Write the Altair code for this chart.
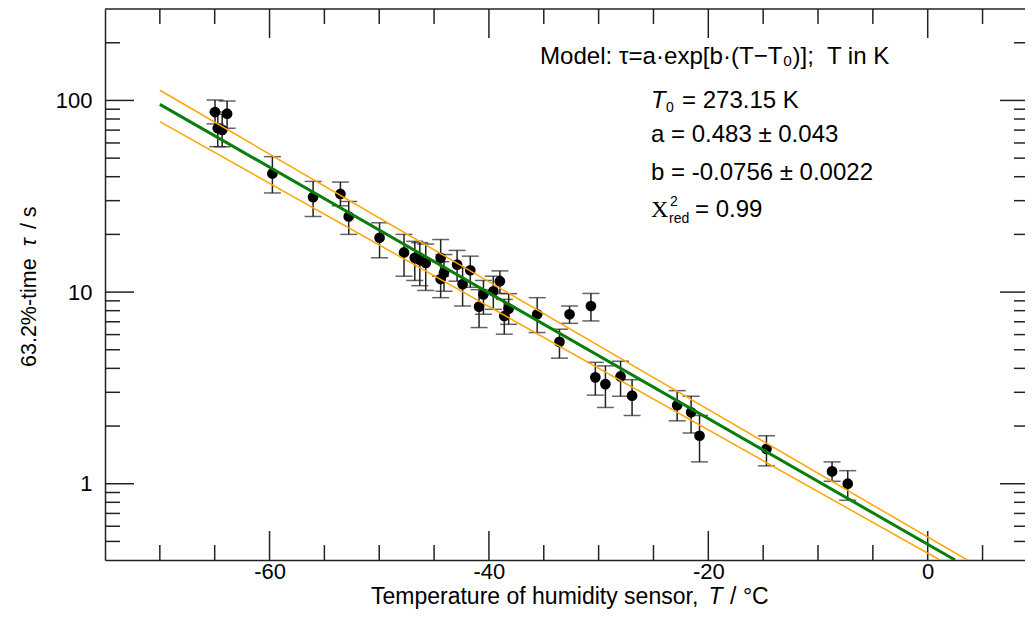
import altair as alt
import pandas as pd

# ---------------- data ----------------
T_degC = [-64.97, -63.87, -64.72, -64.32, -59.74, -56.03, -53.54, -52.78, -49.97, -47.74,
          -46.76, -46.3, -45.76, -44.4, -44.1, -44.4, -42.9, -42.4, -41.7, -40.9,
          -40.5, -39.6, -39.0, -38.6, -38.2, -35.6, -32.65, -30.7, -33.57, -30.3,
          -29.38, -28.0, -26.95, -22.84, -21.57, -20.8, -14.7, -8.72, -7.29]
tau = [87.0, 85.3, 71.6, 70.2, 41.6, 31.3, 32.5, 24.8, 19.2, 16.1,
       15.1, 14.7, 14.2, 15.1, 12.6, 11.7, 13.9, 11.0, 13.0, 8.40,
       9.73, 10.1, 11.4, 7.50, 8.20, 7.66, 7.66, 8.46, 5.50, 3.59,
       3.31, 3.63, 2.88, 2.57, 2.36, 1.78, 1.52, 1.16, 1.00]
tau_hi = [100.5, 99.3, 87.0, 84.9, 50.9, 37.8, 37.5, 29.7, 23.0, 20.0,
          18.4, 18.1, 17.8, 18.8, 15.7, 14.4, 16.5, 13.4, 15.4, 10.3,
          11.5, 12.1, 12.9, 9.16, 9.81, 9.35, 8.46, 9.84, 6.40, 4.30,
          4.12, 4.35, 3.49, 3.06, 2.86, 2.27, 1.78, 1.30, 1.17]
tau_lo = [75.4, 71.6, 57.4, 57.3, 32.9, 24.8, 28.2, 20.0, 15.1, 12.1,
          11.5, 10.8, 10.2, 12.1, 10.1, 9.35, 11.4, 8.46, 10.6, 6.53,
          7.66, 8.13, 9.84, 6.03, 6.79, 6.15, 6.87, 7.07, 4.52, 2.90,
          2.50, 2.86, 2.27, 2.13, 1.84, 1.30, 1.24, 1.03, 0.82]

# fitted model line and its confidence band (end points, straight in log space)
fit_T = [-70, 2.5]
fit_tau = [95.4, 0.4]
upper_T = [-70, 3.6]
upper_tau = [113.0, 0.4]
lower_T = [-70, 1.1]
lower_tau = [77.5, 0.4]

x_major = [-60, -40, -20, 0]
x_minor = [-70, -65, -55, -50, -45, -35, -30, -25, -15, -10, -5, 5]
y_major = [1, 10, 100]
y_minor = [0.5, 0.6, 0.7, 0.8, 0.9, 2, 3, 4, 5, 6, 7, 8, 9,
           20, 30, 40, 50, 60, 70, 80, 90, 200]

# ---------------- layout / style ----------------
W, H = 920, 551
FONT = "Liberation Sans"
INK = "#222222"
MAJ, MIN = 29, 15

xscale = alt.Scale(domain=[-75, 8.87], nice=False, zero=False)
yscale = alt.Scale(type="log", domain=[0.4, 300], nice=False)

pts = pd.DataFrame({"T": T_degC, "tau": tau, "hi": tau_hi, "lo": tau_lo})

x_axis = alt.Axis(values=x_major, labelExpr="'' + datum.value", ticks=False, tickSize=0,
                  grid=False, domain=True, domainColor=INK, domainWidth=1.5,
                  labelFont=FONT, labelFontSize=22, labelColor="black",
                  labelPadding=18, labelBaseline="alphabetic", title=None)
y_axis = alt.Axis(values=y_major, labelExpr="'' + datum.value", ticks=False, tickSize=0,
                  grid=False, domain=True, domainColor=INK, domainWidth=1.5,
                  labelFont=FONT, labelFontSize=22, labelColor="black",
                  labelPadding=13, labelBaseline="middle", title=None)


def X(field):
    return alt.X(field, scale=xscale, axis=x_axis)


def Y(field):
    return alt.Y(field, scale=yscale, axis=y_axis)


bars = alt.Chart(pts).mark_rule(color=INK, strokeWidth=1.5).encode(
    x=X("T:Q"), y=Y("lo:Q"), y2="hi:Q")
cap_hi = alt.Chart(pts).mark_tick(orient="horizontal", size=17, thickness=1.5, color=INK).encode(
    x=X("T:Q"), y=Y("hi:Q"))
cap_lo = alt.Chart(pts).mark_tick(orient="horizontal", size=17, thickness=1.5, color=INK).encode(
    x=X("T:Q"), y=Y("lo:Q"))
points = alt.Chart(pts).mark_circle(size=115, color="black", opacity=1).encode(
    x=X("T:Q"), y=Y("tau:Q"))


def line(Ts, taus, color, width):
    d = pd.DataFrame({"T": Ts, "tau": taus})
    return alt.Chart(d).mark_line(color=color, strokeWidth=width, clip=True).encode(
        x=X("T:Q"), y=Y("tau:Q"))


fit_up = line(upper_T, upper_tau, "#FFA500", 1.5)
fit_low = line(lower_T, lower_tau, "#FFA500", 1.5)
fit = line(fit_T, fit_tau, "#0A7D0A", 3)


def xticks(vals, length, top):
    d = pd.DataFrame({"v": vals})
    y0, y1 = (0, length) if top else (H, H - length)
    return alt.Chart(d).mark_rule(color=INK, strokeWidth=1.5).encode(
        x=X("v:Q"), y=alt.value(y0), y2=alt.value(y1))


def yticks(vals, length, right):
    d = pd.DataFrame({"v": vals})
    x0, x1 = (W, W - length) if right else (0, length)
    return alt.Chart(d).mark_rule(color=INK, strokeWidth=1.5).encode(
        y=Y("v:Q"), x=alt.value(x0), x2=alt.value(x1))


# right-hand ticks: the reference frame is cut off at the window edge
ticks = [xticks(x_major, MAJ, False), xticks(x_minor, MIN, False),
         xticks(x_major, MAJ, True), xticks(x_minor, MIN, True),
         yticks(y_major, MAJ, False), yticks(y_minor, MIN, False),
         yticks(y_major, 25, True), yticks(y_minor, 11, True)]

one = pd.DataFrame({"a": [0]})

top_frame = alt.Chart(one).mark_rule(color=INK, strokeWidth=1.5).encode(
    x=alt.value(0), x2=alt.value(W), y=alt.value(0))


def txt(s, x, y, size=24, font=FONT, style="normal", angle=0):
    return alt.Chart(one).mark_text(text=s, font=font, fontSize=size, fontStyle=style,
                                    angle=angle, align="left", baseline="alphabetic",
                                    color="black").encode(
        x=alt.value(x), y=alt.value(y))


# axis titles (pieces so that the symbols can be italic)
XT = 23
xt0 = 266
XB = H + 44
xtitle = [
    txt("Temperature of humidity sensor,", xt0, XB, size=XT),
    txt("T", xt0 + XT * 14.394 + XT * 0.278, XB, size=XT, style="italic"),
    txt("/ °C", xt0 + XT * 14.394 + XT * 0.278 + XT * 0.611 + XT * 0.33, XB, size=XT),
]
YT = 21.5
yb = 358
ytitle = [
    txt("63.2%-time", -69.5, yb, size=YT, angle=270),
    txt("τ", -69.5, yb - YT * 5.057 - YT * 0.556, size=YT, style="italic", angle=270),
    txt("/ s", -69.5, yb - YT * 5.057 - YT * 0.556 - YT * 0.5 - YT * 0.3, size=YT, angle=270),
]

AX = 546
notes = [
    txt("Model: τ=a·exp[b·(T−T₀)];\u00a0 T in K", 435, 55, size=24.1),
    txt("T", AX, 99, style="italic"),
    txt("0", AX + 15, 103, size=14),
    txt("= 273.15 K", AX + 31, 99),
    txt("a = 0.483 ± 0.043", AX, 133),
    txt("b = -0.0756 ± 0.0022", AX, 171),
    txt("X", AX, 208, font="Liberation Serif"),
    txt("2", AX + 19, 197, size=14),
    txt("red", AX + 18, 214, size=14),
    txt("= 0.99", AX + 44, 208),
]

chart = alt.layer(
    *ticks, top_frame, bars, cap_hi, cap_lo, points, fit_up, fit_low, fit,
    *xtitle, *ytitle, *notes
).properties(
    width=W, height=H,
    padding={"left": 97, "top": 1, "right": 0, "bottom": 49},
    autosize=alt.AutoSizeParams(type="none"),
).configure_view(stroke=None)

chart.save("out.html", embed_options={"renderer": "svg", "actions": False})
